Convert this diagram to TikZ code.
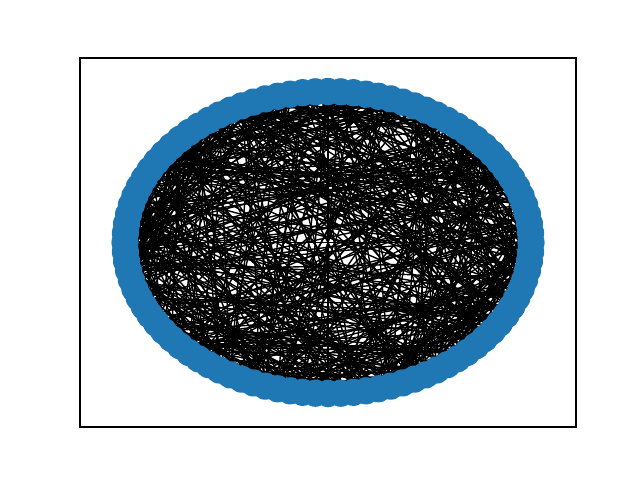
\documentclass[tikz,border=0pt]{standalone}
\definecolor{nodeblue}{HTML}{1F77B4}
\tikzset{
  graphedge/.style={draw=black, line width=1.39pt},
  graphnode/.style={circle, fill=nodeblue, draw=none, minimum size=27.2pt, inner sep=0pt},
  axesframe/.style={draw=black, line width=1.1pt}
}
\begin{document}
\begin{tikzpicture}[x=1pt,y=-1pt]
\useasboundingbox (0,0) rectangle (640,480);
\fill[white] (0,0) rectangle (640,480);
\foreach \i in {0,...,99} {
  \coordinate (p\i) at ({328+203*cos(3.6*\i)},{242.5-151*sin(3.6*\i)});
}
\pgfmathsetseed{7}
\foreach \i in {0,...,98} {
  \pgfmathtruncatemacro\ip{\i+1}
  \foreach \j in {\ip,...,99} {
    \pgfmathtruncatemacro\r{rnd<0.13}
    \ifnum\r=1 \draw[graphedge] (p\i) -- (p\j);\fi
  }
}
\foreach \i in {0,...,99} {
  \node[graphnode] (n\i) at (p\i) {};
}
\draw[axesframe] (80,58) rectangle (576,427);
\end{tikzpicture}
\end{document}
